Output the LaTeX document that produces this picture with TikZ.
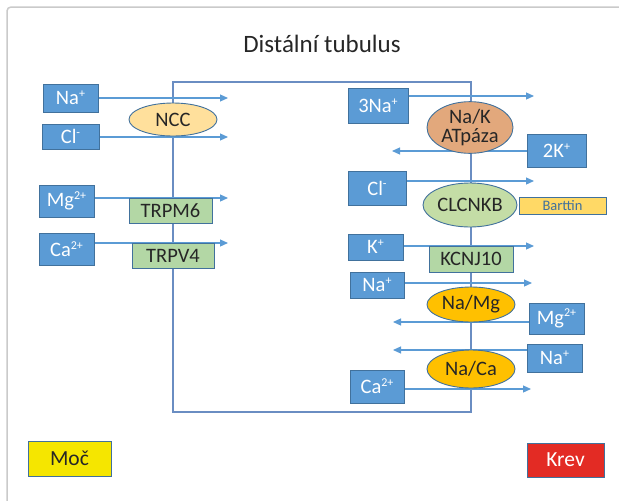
\documentclass[tikz,border=0pt]{standalone}
\usepackage{fontspec}
\setmainfont{Carlito}
\usetikzlibrary{arrows.meta, shapes.geometric, backgrounds, positioning}
\definecolor{ionblue}{HTML}{5B9BD5}
\definecolor{ionedge}{HTML}{41719C}
\definecolor{cellline}{HTML}{6A8DC2}
\definecolor{chanfill}{HTML}{B3D7A5}
\definecolor{nccfill}{HTML}{FFE09C}
\definecolor{atpfill}{HTML}{E2A87C}
\definecolor{clcfill}{HTML}{C4DDA6}
\definecolor{exchfill}{HTML}{FFC000}
\definecolor{bartfill}{HTML}{FFD966}
\definecolor{mocfill}{HTML}{F5E600}
\definecolor{krevfill}{HTML}{E32B24}
\definecolor{framegray}{HTML}{CACACA}
\newcommand\ionsz{\fontsize{20.5}{22}\selectfont}
\newcommand\chg[1]{\raisebox{0.75ex}{\fontsize{12}{12}\selectfont #1}}
\tikzset{
  dims/.style 2 args = {minimum width=#1, minimum height=#2, inner sep=0pt},
  ion/.style = {draw=ionedge, line width=0.9pt, fill=ionblue, text=white, font=\ionsz},
  chan/.style = {draw=ionedge, line width=0.9pt, fill=chanfill, text=black!85, font=\ionsz},
  pump/.style = {ellipse, draw=ionedge, line width=0.9pt, text=black!85, font=\ionsz, align=center},
  flow/.style = {draw=ionblue, line width=1.2pt, -{Triangle[length=8pt,width=7pt]}},
  legend/.style = {draw=ionedge, line width=0.9pt, font=\fontsize{21.5}{24}\selectfont}
}

\begin{document}
\begin{tikzpicture}[x=1pt, y=-1pt]
  \useasboundingbox (0,0) rectangle (619,501);
  \draw[framegray, line width=1.5pt, rounded corners=4pt] (7,501) |- (619,7);

  \node[text=black!85, font=\fontsize{25}{28}\selectfont] (title) at (322,44) {Distální tubulus};

  % urine side (left)
  \node[ion, dims={55}{28}] (naL) at (70.5,98) {Na\chg{+}};
  \node[ion, dims={57}{25}] (clL) at (70.5,136.5) {Cl\chg{-}};
  \node[ion, dims={55}{32}] (mgL) at (66.5,201) {Mg\chg{2+}};
  \node[ion, dims={55}{32}] (caL) at (66.5,249) {Ca\chg{2+}};
  \node[pump, fill=nccfill, dims={88}{33}] (ncc) at (173,119.5) {NCC};
  \node[chan, dims={83}{25}] (trpm) at (170.5,210.5) {TRPM6};
  \node[chan, dims={82}{25}] (trpv) at (173,255.5) {TRPV4};

  % blood side (right)
  \node[ion, dims={60}{35}] (naR) at (378,105.5) {3Na\chg{+}};
  \node[pump, fill=atpfill, dims={86}{45}] (nak) at (470,127.5) {Na/K\\[-3pt]ATpáza};
  \node[ion, dims={59}{33}] (kR) at (556.5,150.5) {2K\chg{+}};
  \node[ion, dims={58}{34}] (clR) at (377,188) {Cl\chg{-}};
  \node[pump, fill=clcfill, dims={94}{44}] (clc) at (470,205) {CLCNKB};
  \node[draw=ionedge, line width=0.9pt, fill=bartfill, text=ionedge, font=\fontsize{14.5}{16}\selectfont, dims={87}{17}] (bart) at (562.5,205.5) {Barttin};
  \node[ion, dims={55}{26}] (kC) at (375.5,247) {K\chg{+}};
  \node[chan, dims={84}{26}] (kcnj) at (471,259) {KCNJ10};
  \node[ion, dims={54}{26}] (naM) at (377,285) {Na\chg{+}};
  \node[pump, fill=exchfill, dims={88}{35}] (namg) at (471,304.5) {Na/Mg};
  \node[ion, dims={55}{31}] (mgR) at (556.5,318.5) {Mg\chg{2+}};
  \node[ion, dims={55}{28}] (naX) at (554.5,358) {Na\chg{+}};
  \node[pump, fill=exchfill, dims={88}{38}] (naca) at (471,369) {Na/Ca};
  \node[ion, dims={54}{33}] (caR) at (377,386.5) {Ca\chg{2+}};

  \node[legend, fill=mocfill, text=black!85, dims={83}{35}] (moc) at (69.5,458.5) {Moč};
  \node[legend, fill=krevfill, text=white, dims={77}{34}] (krev) at (565.5,460) {Krev};

  % arrow ends
  \coordinate (naLend) at (228,98);
  \coordinate (clLend) at (228,137);
  \coordinate (mgLend) at (228,198);
  \coordinate (caLend) at (228,243);
  \coordinate (naRend) at (534,96);
  \coordinate (kRend) at (392,151);
  \coordinate (clRend) at (534,181);
  \coordinate (kCend) at (534,246);
  \coordinate (naMend) at (532,283);
  \coordinate (mgRend) at (393,322);
  \coordinate (naXend) at (393,350);
  \coordinate (caRend) at (531,389);

  \begin{pgfonlayer}{background}
    \draw[cellline, line width=1.3pt] (173,82) rectangle (471,412);
    \draw[flow] (naL.east |- naLend) -- (naLend);
    \draw[flow] (clL.east |- clLend) -- (clLend);
    \draw[flow] (mgL.east |- mgLend) -- (mgLend);
    \draw[flow] (caL.east |- caLend) -- (caLend);
    \draw[flow] (naR.east |- naRend) -- (naRend);
    \draw[flow] (kR.west |- kRend) -- (kRend);
    \draw[flow] (clR.east |- clRend) -- (clRend);
    \draw[flow] (kC.east |- kCend) -- (kCend);
    \draw[flow] (naM.east |- naMend) -- (naMend);
    \draw[flow] (mgR.west |- mgRend) -- (mgRend);
    \draw[flow] (naX.west |- naXend) -- (naXend);
    \draw[flow] (caR.east |- caRend) -- (caRend);
  \end{pgfonlayer}
\end{tikzpicture}
\end{document}
